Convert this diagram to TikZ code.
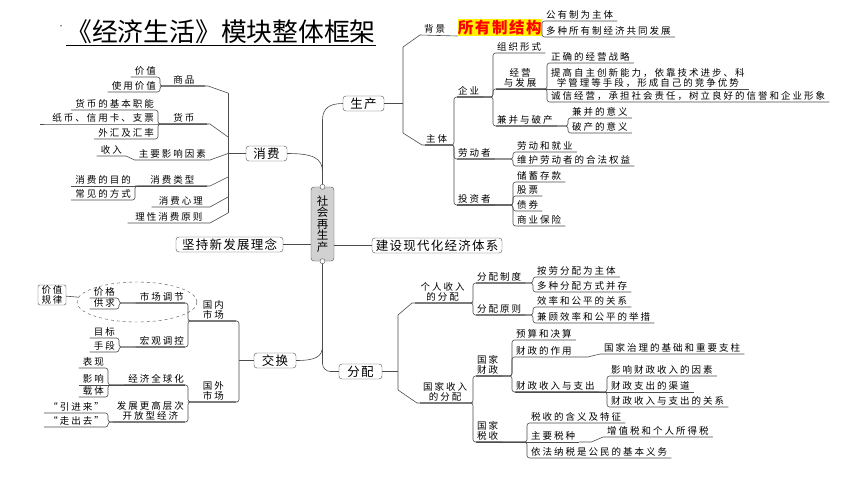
\documentclass[tikz,border=0pt]{standalone}
\usepackage{fontspec}
\setmainfont{Noto Sans CJK SC}[LetterSpace=21]
\newfontfamily\boxfont{Noto Sans CJK SC}[LetterSpace=10]
\newfontfamily\titlefont{Noto Sans CJK SC}
\usetikzlibrary{shapes.geometric}

\begin{document}
\begin{tikzpicture}[x=1pt, y=-1pt,
	twig/.style={draw=black!70, line width=0.6pt, rounded corners=2.5pt},
	stem/.style={draw=black!70, line width=0.6pt},
	rtopic/.style={anchor=south west, inner xsep=4pt, inner ysep=1.5pt, align=center, font=\fontsize{9.5}{10.2}\selectfont},
	ltopic/.style={anchor=south east, inner xsep=4pt, inner ysep=1.5pt, align=center, font=\fontsize{9.5}{10.2}\selectfont},
	mainbox/.style={draw=black!70, fill=white, rounded corners=3pt, inner sep=0pt, minimum height=15pt, font=\boxfont\fontsize{12.5}{14}\selectfont}]

	\fill[white] (0,0) rectangle (860,496);
	\useasboundingbox (0,0) rectangle (860,496);

	% Title
	\node [anchor=south west, inner sep=0pt, font=\titlefont\fontsize{25.8}{28}\selectfont] (title) at (66,43.5) {《经济生活》模块整体框架};
	\draw [line width=1.3pt] ([yshift=-2pt]title.south west) -- ([yshift=-2pt]title.south east);
	\node [inner sep=0pt, font=\fontsize{6}{6}\selectfont] (mark) at (61,27) {·};

	% Centre and main boxes
	\node [draw=black!70, fill=black!18, rounded corners=3pt, minimum width=23pt, minimum height=74pt, inner sep=0pt, align=center, font=\boxfont\fontsize{11.5}{11.5}\selectfont] (shzsc) at (322.5,224) {社\\会\\再\\生\\产};
	\node [mainbox, minimum width=41pt] (shengchan) at (363.5,103.5) {生产};
	\node [mainbox, minimum width=41pt] (xiaofei) at (266.5,153.5) {消费};
	\node [mainbox, minimum width=42pt] (jiaohuan) at (275,360.5) {交换};
	\node [mainbox, minimum width=43pt] (fenpei) at (360.5,371.5) {分配};
	\node [mainbox, minimum width=107pt] (jianchi) at (229.5,244.5) {坚持新发展理念};
	\node [mainbox, minimum width=130pt] (jianshe) at (437,245.5) {建设现代化经济体系};

	\draw [stem] (jianchi.east) -- (jianchi.east -| shzsc.west);
	\draw [stem] (jianshe.west) -- (jianshe.west -| shzsc.east);
	\draw [stem] (shzsc.north) -- (322.5,120) .. controls (322.5,108) and (330,103.5) .. (shengchan.west);
	\draw [stem] (xiaofei.east) .. controls (313,153.5) and (322.5,158) .. (322.5,172);
	\draw [stem] (jiaohuan.east) .. controls (315,360.5) and (322.5,357) .. (322.5,346);
	\draw [twig, rounded corners=8pt] (shzsc.south) |- (fenpei.west);
	\draw [draw=black!70, fill=white] (shzsc.north) circle (2.5pt);
	\draw [draw=black!70, fill=white] (shzsc.south) circle (2.5pt);

	% Production branch
	\coordinate (scR) at (403,103.5);
	\node [rtopic] (beijing) at (420,35) {背景};
	\node [anchor=south east, fill=yellow, text=red, inner sep=0pt, minimum width=84pt, minimum height=17pt, font=\boxfont\bfseries\fontsize{15.5}{16}\selectfont] (syz) at (542,36) {所有制结构};
	\node [rtopic] (gyz) at (542,21) {公有制为主体};
	\node [rtopic] (dzs) at (542,37) {多种所有制经济共同发展};
	\node [rtopic] (zhuti) at (422,145) {主体};
	\node [rtopic] (qiye) at (454,97) {企业};
	\node [rtopic] (ldz) at (454,159) {劳动者};
	\node [rtopic] (tzz) at (454,205) {投资者};
	\node [rtopic] (zzxs) at (493,53) {组织形式};
	\node [rtopic, minimum width=54pt] (jyfz) at (493,89) {经营\\与发展};
	\node [rtopic] (jbpc) at (493,126) {兼并与破产};
	\node [rtopic] (zqjy) at (547,63) {正确的经营战略};
	\node [rtopic] (tgzz) at (547,89) {提高自主创新能力，依靠技术进步、科\\学管理等手段，形成自己的竞争优势};
	\node [rtopic] (cxjy) at (547,102) {诚信经营，承担社会责任，树立良好的信誉和企业形象};
	\node [rtopic] (jbyy) at (568,118) {兼并的意义};
	\node [rtopic] (pcyy) at (568,133) {破产的意义};
	\node [rtopic] (ldjy) at (513,152) {劳动和就业};
	\node [rtopic] (whqy) at (513,166) {维护劳动者的合法权益};
	\node [rtopic] (cxck) at (513,182) {储蓄存款};
	\node [rtopic] (gp) at (513,196) {股票};
	\node [rtopic] (zq) at (513,211) {债券};
	\node [rtopic] (sybx) at (513,226) {商业保险};

	\draw [stem] (shengchan.east) -- (scR);
	\draw [stem] (scR) -- (403,47) -- (beijing.south west) -- (syz.south west);
	\draw [stem] (scR) -- (403,133) -- (zhuti.south west) -- (zhuti.south east);
	\draw [twig] (gyz.south east) -| (dzs.south west) -- (dzs.south east);
	\draw [twig] ([xshift=3pt]zhuti.south west) -- (zhuti.south west -| qiye.south west) |- (qiye.south east);
	\draw [twig] ([xshift=3pt]zhuti.south west) -- (zhuti.south west -| ldz.south west) |- (ldz.south east);
	\draw [twig] ([xshift=3pt]zhuti.south west) -- (zhuti.south west -| tzz.south west) |- (tzz.south east);
	\draw [twig] ([xshift=3pt]qiye.south west) -- (qiye.south west -| zzxs.south west) |- (zzxs.south east);
	\draw [twig] ([xshift=3pt]qiye.south west) -- (qiye.south west -| jyfz.south west) |- (jyfz.south east);
	\draw [twig] ([xshift=3pt]qiye.south west) -- (qiye.south west -| jbpc.south west) |- (jbpc.south east);
	\draw [twig] ([xshift=3pt]jyfz.south west) -- (jyfz.south west -| zqjy.south west) |- (zqjy.south east);
	\draw [stem] ([xshift=3pt]jyfz.south west) -- (tgzz.south east);
	\draw [twig] ([xshift=3pt]jyfz.south west) -- (jyfz.south west -| cxjy.south west) |- (cxjy.south east);
	\draw [twig] ([xshift=3pt]jbpc.south west) -- (jbpc.south west -| jbyy.south west) |- (jbyy.south east);
	\draw [twig] ([xshift=3pt]jbpc.south west) -- (jbpc.south west -| pcyy.south west) |- (pcyy.south east);
	\draw [twig] ([xshift=3pt]ldz.south west) -- (ldz.south west -| ldjy.south west) |- (ldjy.south east);
	\draw [twig] ([xshift=3pt]ldz.south west) -- (ldz.south west -| whqy.south west) |- (whqy.south east);
	\draw [twig] ([xshift=3pt]tzz.south west) -- (tzz.south west -| cxck.south west) |- (cxck.south east);
	\draw [twig] ([xshift=3pt]tzz.south west) -- (tzz.south west -| gp.south west) |- (gp.south east);
	\draw [twig] ([xshift=3pt]tzz.south west) -- (tzz.south west -| zq.south west) |- (zq.south east);
	\draw [twig] ([xshift=3pt]tzz.south west) -- (tzz.south west -| sybx.south west) |- (sybx.south east);

	% Distribution branch
	\coordinate (fpR) at (398,371.5);
	\node [rtopic, minimum width=61pt] (grsr) at (412,303) {个人收入\\的分配};
	\node [rtopic, minimum width=56pt] (gjsr) at (417,403) {国家收入\\的分配};
	\node [rtopic] (fpzd) at (473,283) {分配制度};
	\node [rtopic] (fpyz) at (473,315) {分配原则};
	\node [rtopic] (alfp) at (533,277) {按劳分配为主体};
	\node [rtopic] (dzfp) at (533,292) {多种分配方式并存};
	\node [rtopic] (xlgp) at (533,307) {效率和公平的关系};
	\node [rtopic] (jgxl) at (533,323) {兼顾效率和公平的举措};
	\node [rtopic] (gjcz) at (473,376) {国家\\财政};
	\node [rtopic] (gjss) at (473,442) {国家\\税收};
	\node [rtopic] (ysjs) at (512,340) {预算和决算};
	\node [rtopic] (czzy) at (512,357) {财政的作用};
	\node [rtopic] (gjzl) at (600,354) {国家治理的基础和重要支柱};
	\node [rtopic] (czsr) at (512,392) {财政收入与支出};
	\node [rtopic] (yxcz) at (607,376) {影响财政收入的因素};
	\node [rtopic] (czzc) at (607,392) {财政支出的渠道};
	\node [rtopic] (czgx) at (607,407) {财政收入与支出的关系};
	\node [rtopic] (sshy) at (527,423) {税收的含义及特征};
	\node [rtopic] (zyss) at (527,442) {主要税种};
	\node [rtopic] (zzs) at (603,437) {增值税和个人所得税};
	\node [rtopic] (yfns) at (527,458) {依法纳税是公民的基本义务};

	\draw [stem] (fenpei.east) -- (fpR);
	\draw [stem] (fpR) -- (398,315) -- (grsr.south west) -- (grsr.south east);
	\draw [stem] (fpR) -- (398,390) -- (gjsr.south west) -- (gjsr.south east);
	\draw [twig] ([xshift=3pt]grsr.south west) -- (grsr.south west -| fpzd.south west) |- (fpzd.south east);
	\draw [twig] ([xshift=3pt]grsr.south west) -- (grsr.south west -| fpyz.south west) |- (fpyz.south east);
	\draw [twig] ([xshift=3pt]fpzd.south west) -- (fpzd.south west -| alfp.south west) |- (alfp.south east);
	\draw [twig] ([xshift=3pt]fpzd.south west) -- (fpzd.south west -| dzfp.south west) |- (dzfp.south east);
	\draw [twig] ([xshift=3pt]fpyz.south west) -- (fpyz.south west -| xlgp.south west) |- (xlgp.south east);
	\draw [twig] ([xshift=3pt]fpyz.south west) -- (fpyz.south west -| jgxl.south west) |- (jgxl.south east);
	\draw [twig] ([xshift=3pt]gjsr.south west) -- (gjsr.south west -| gjcz.south west) |- (gjcz.south east);
	\draw [twig] ([xshift=3pt]gjsr.south west) -- (gjsr.south west -| gjss.south west) |- (gjss.south east);
	\draw [twig] ([xshift=3pt]gjcz.south west) -- (gjcz.south west -| ysjs.south west) |- (ysjs.south east);
	\draw [twig] ([xshift=3pt]gjcz.south west) -- (gjcz.south west -| czzy.south west) |- (czzy.south east);
	\draw [twig] ([xshift=3pt]gjcz.south west) -- (gjcz.south west -| czsr.south west) |- (czsr.south east);
	\draw [stem] (czzy.south east) -- ++(12,0) -- (gjzl.south west) -- (gjzl.south east);
	\draw [twig] ([xshift=3pt]czsr.south west) -- (czsr.south west -| yxcz.south west) |- (yxcz.south east);
	\draw [stem] ([xshift=3pt]czsr.south west) -- (czzc.south east);
	\draw [twig] ([xshift=3pt]czsr.south west) -- (czsr.south west -| czgx.south west) |- (czgx.south east);
	\draw [twig] ([xshift=3pt]gjss.south west) -- (gjss.south west -| sshy.south west) |- (sshy.south east);
	\draw [stem] ([xshift=3pt]gjss.south west) -- (zyss.south east);
	\draw [twig] ([xshift=3pt]gjss.south west) -- (gjss.south west -| yfns.south west) |- (yfns.south east);
	\draw [stem] (zyss.south east) -- ++(12,0) -- (zzs.south west) -- (zzs.south east);

	% Consumption branch
	\coordinate (xfL) at (228,153.5);
	\node [ltopic, minimum width=48pt] (sp) at (208,86) {商品};
	\node [ltopic, minimum width=52pt] (hb) at (210,124) {货币};
	\node [ltopic, minimum width=72pt] (yxys) at (210,160) {主要影响因素};
	\node [ltopic, minimum width=75pt] (xflx) at (210,186) {消费类型};
	\node [ltopic, minimum width=58pt] (xfxl) at (210,207) {消费心理};
	\node [ltopic, minimum width=82pt] (lxyz) at (210,223) {理性消费原则};
	\node [ltopic] (jz) at (160,77) {价值};
	\node [ltopic] (syjz) at (160,92) {使用价值};
	\node [ltopic] (jbzn) at (158,110) {货币的基本职能};
	\node [ltopic] (zbxy) at (158,124) {纸币、信用卡、支票};
	\node [ltopic] (whhl) at (158,139) {外汇及汇率};
	\node [ltopic] (sr) at (126,156) {收入};
	\node [ltopic] (xfmd) at (135,186) {消费的目的};
	\node [ltopic] (cjfs) at (135,200) {常见的方式};

	\draw [stem] (xiaofei.west) -- (xfL);
	\draw [stem] (228,93) -- (228,213);
	\draw [stem] (228,93) -- (sp.south east) -- (sp.south west);
	\draw [stem] (228,137) -- (hb.south east) -- (hb.south west);
	\draw [stem] (xfL) -- (yxys.south east) -- (yxys.south west) -- (sr.south east) -- (sr.south west);
	\draw [stem] (228,177) -- (xflx.south east) -- (xflx.south west);
	\draw [stem] (228,197) -- (xfxl.south east) -- (xfxl.south west);
	\draw [stem] (228,213) -- (lxyz.south east) -- (lxyz.south west);
	\draw [twig] ([xshift=-3pt]sp.south east) -- (sp.south east -| jz.south east) |- (jz.south west);
	\draw [twig] ([xshift=-3pt]sp.south east) -- (sp.south east -| syjz.south east) |- (syjz.south west);
	\draw [twig] ([xshift=-3pt]hb.south east) -- (hb.south east -| jbzn.south east) |- (jbzn.south west);
	\draw [stem] ([xshift=-3pt]hb.south east) -- (zbxy.south west) -- ++(-8,0);
	\draw [twig] ([xshift=-3pt]hb.south east) -- (hb.south east -| whhl.south east) |- (whhl.south west);
	\draw [stem] ([xshift=-3pt]xflx.south east) -- (xfmd.south west);
	\draw [twig] ([xshift=-3pt]xflx.south east) -- (xflx.south east -| cjfs.south east) |- (cjfs.south west);

	% Exchange branch
	\coordinate (jhL) at (239,360.5);
	\node [ltopic, minimum width=51pt] (gnsc) at (239,321) {国内\\市场};
	\node [ltopic, minimum width=51pt] (gwsc) at (239,402) {国外\\市场};
	\node [ltopic] (sctj) at (188,303) {市场调节};
	\node [ltopic] (hgtk) at (188,347) {宏观调控};
	\node [ltopic] (jg) at (119,298) {价格};
	\node [ltopic] (gq) at (119,309) {供求};
	\node [ltopic] (mb) at (119,338) {目标};
	\node [ltopic] (sd) at (119,352) {手段};
	\node [draw=black!70, dashed, ellipse, minimum width=120pt, minimum height=40pt] (sctjq) at (137,302) {};
	\node [draw=black!70, rounded corners=2pt, minimum width=28pt, minimum height=20pt, inner sep=0pt, align=center, font=\fontsize{9.5}{10.2}\selectfont] (jzgl) at (52,295) {价值\\规律};
	\node [ltopic] (jjqq) at (188,385) {经济全球化};
	\node [ltopic] (fzgc) at (188,422) {发展更高层次\\开放型经济};
	\node [ltopic] (bx) at (108,368) {表现};
	\node [ltopic] (yx) at (108,385) {影响};
	\node [ltopic] (zt) at (108,397) {载体};
	\node [ltopic] (yjl) at (108,413) {“引进来”};
	\node [ltopic] (zcq) at (108,427) {“走出去”};

	\draw [stem] (jiaohuan.west) -- (jhL);
	\draw [twig] (jhL) |- (gnsc.south west);
	\draw [twig] (jhL) |- (gwsc.south west);
	\draw [twig] ([xshift=-3pt]gnsc.south east) -- (gnsc.south east -| sctj.south east) |- (sctj.south west);
	\draw [twig] ([xshift=-3pt]gnsc.south east) -- (gnsc.south east -| hgtk.south east) |- (hgtk.south west);
	\draw [twig] ([xshift=-3pt]sctj.south east) -- (sctj.south east -| jg.south east) |- (jg.south west);
	\draw [twig] ([xshift=-3pt]sctj.south east) -- (sctj.south east -| gq.south east) |- (gq.south west);
	\draw [twig] ([xshift=-3pt]hgtk.south east) -- (hgtk.south east -| mb.south east) |- (mb.south west);
	\draw [twig] ([xshift=-3pt]hgtk.south east) -- (hgtk.south east -| sd.south east) |- (sd.south west);
	\draw [stem] (jzgl) -- (sctjq);
	\draw [twig] ([xshift=-3pt]gwsc.south east) -- (gwsc.south east -| jjqq.south east) |- (jjqq.south west);
	\draw [twig] ([xshift=-3pt]gwsc.south east) -- (gwsc.south east -| fzgc.south east) |- (fzgc.south west);
	\draw [twig] ([xshift=-3pt]jjqq.south east) -- (jjqq.south east -| bx.south east) |- (bx.south west);
	\draw [stem] ([xshift=-3pt]jjqq.south east) -- (yx.south west);
	\draw [twig] ([xshift=-3pt]jjqq.south east) -- (jjqq.south east -| zt.south east) |- (zt.south west);
	\draw [twig] ([xshift=-3pt]fzgc.south east) -- (fzgc.south east -| yjl.south east) |- (yjl.south west);
	\draw [twig] ([xshift=-3pt]fzgc.south east) -- (fzgc.south east -| zcq.south east) |- (zcq.south west);

\end{tikzpicture}
\end{document}
